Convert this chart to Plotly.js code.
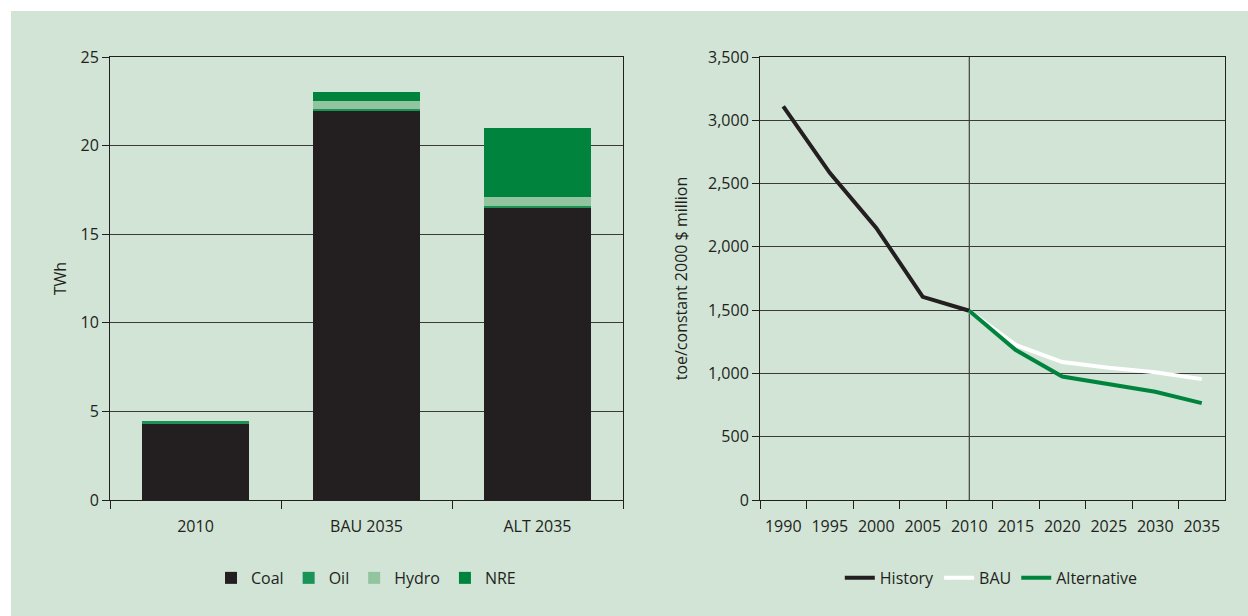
<!DOCTYPE html>
<html>
<head>
<meta charset="utf-8">
<script src="https://cdn.plot.ly/plotly-3.0.1.min.js"></script>
<style>
  html, body { margin: 0; padding: 0; background: #ffffff; overflow: hidden; }
  #chart { position: absolute; left: 11px; top: 11px; width: 1237px; height: 605px; }
</style>
</head>
<body>
<div id="chart"></div>
<script>
// ---- Left chart: electricity generation (TWh) ----
const categories = ['2010', 'BAU 2035', 'ALT 2035'];
const coal  = [4.3, 21.95, 16.5];
const oil   = [0.15, 0.12, 0.1];
const hydro = [0.0, 0.45, 0.5];
const nre   = [0.0, 0.5, 3.9];

// ---- Right chart: energy intensity (toe/constant 2000 $ million) ----
const years   = ['1990', '1995', '2000', '2005', '2010', '2015', '2020', '2025', '2030', '2035'];
const history = [3110, 2585, 2150, 1605, 1495, null, null, null, null, null];
const bau     = [null, null, null, null, 1495, 1225, 1090, 1045, 1010, 955];
const alt     = [null, null, null, null, 1495, 1185, 975, 915, 855, 765];
const baseYear = '2010';

const txt = '#231f20';
const grid = '#3a3a3a';
const font = {family: '"Open Sans", "Noto Sans", sans-serif', size: 16, color: txt};

const traces = [
  {type: 'bar', name: 'Coal',  x: categories, y: coal,  marker: {color: '#231f20'}, xaxis: 'x', yaxis: 'y', legend: 'legend'},
  {type: 'bar', name: 'Oil',   x: categories, y: oil,   marker: {color: '#1a9357'}, xaxis: 'x', yaxis: 'y', legend: 'legend'},
  {type: 'bar', name: 'Hydro', x: categories, y: hydro, marker: {color: '#93c4a0'}, xaxis: 'x', yaxis: 'y', legend: 'legend'},
  {type: 'bar', name: 'NRE',   x: categories, y: nre,   marker: {color: '#00843d'}, xaxis: 'x', yaxis: 'y', legend: 'legend'},

  {type: 'scatter', mode: 'lines', name: 'History', x: years, y: history,
   line: {color: '#231f20', width: 4}, xaxis: 'x2', yaxis: 'y2', legend: 'legend2', legendrank: 1},
  {type: 'scatter', mode: 'lines', name: 'BAU', x: years, y: bau,
   line: {color: '#ffffff', width: 4}, xaxis: 'x2', yaxis: 'y2', legend: 'legend2', legendrank: 2},
  {type: 'scatter', mode: 'lines', name: 'Alternative', x: years, y: alt,
   line: {color: '#00843d', width: 4}, xaxis: 'x2', yaxis: 'y2', legend: 'legend2', legendrank: 3}
];

const layout = {
  width: 1237, height: 605,
  paper_bgcolor: '#d1e4d6',
  plot_bgcolor: 'rgba(0,0,0,0)',
  font: font,
  showlegend: true,
  margin: {l: 99, r: 23, t: 46, b: 116},
  barmode: 'stack',
  bargap: 0.375,
  xaxis: {
    domain: [0, 0.46009], type: 'category',
    showline: true, linecolor: txt, linewidth: 1, mirror: true,
    ticks: 'outside', tickson: 'boundaries', ticklen: 8, tickcolor: txt,
    ticklabelstandoff: 12,
    showgrid: false, zeroline: false, tickfont: font
  },
  yaxis: {
    domain: [0, 1], range: [0, 25], dtick: 5,
    title: {text: 'TWh', font: font, standoff: 9},
    showline: true, linecolor: txt, linewidth: 1, mirror: true,
    ticks: 'outside', ticklen: 7, tickcolor: txt,
    showgrid: true, gridcolor: grid, gridwidth: 1, zeroline: false, tickfont: font
  },
  xaxis2: {
    domain: [0.58296, 1], type: 'category', anchor: 'y2',
    categoryorder: 'array', categoryarray: years,
    range: [-0.5, years.length - 0.5], autorange: false,
    showline: true, linecolor: txt, linewidth: 1, mirror: true,
    ticks: 'outside', tickson: 'boundaries', ticklen: 8, tickcolor: txt,
    ticklabelstandoff: 12,
    tickangle: 0, showgrid: false, zeroline: false, tickfont: font
  },
  yaxis2: {
    domain: [0, 1], range: [0, 3500], dtick: 500, anchor: 'x2', tickformat: ',d',
    title: {text: 'toe/constant 2000 $ million', font: font, standoff: 16},
    showline: true, linecolor: txt, linewidth: 1, mirror: true,
    ticks: 'outside', ticklen: 7, tickcolor: txt,
    showgrid: true, gridcolor: grid, gridwidth: 1, zeroline: false, tickfont: font
  },
  legend: {
    orientation: 'h', x: 0.2296, xanchor: 'center', y: -0.176, yanchor: 'middle',
    bgcolor: 'rgba(0,0,0,0)', font: font, traceorder: 'normal'
  },
  legend2: {
    orientation: 'h', x: 0.7904, xanchor: 'center', y: -0.176, yanchor: 'middle',
    bgcolor: 'rgba(0,0,0,0)', font: font, traceorder: 'normal'
  },
  shapes: [
    {type: 'line', xref: 'x2', yref: 'y2 domain',
     x0: years.indexOf(baseYear), x1: years.indexOf(baseYear), y0: 0, y1: 1,
     line: {color: txt, width: 1}, layer: 'below'}
  ]
};

Plotly.newPlot('chart', traces, layout, {displayModeBar: false, staticPlot: true});
</script>
</body>
</html>
